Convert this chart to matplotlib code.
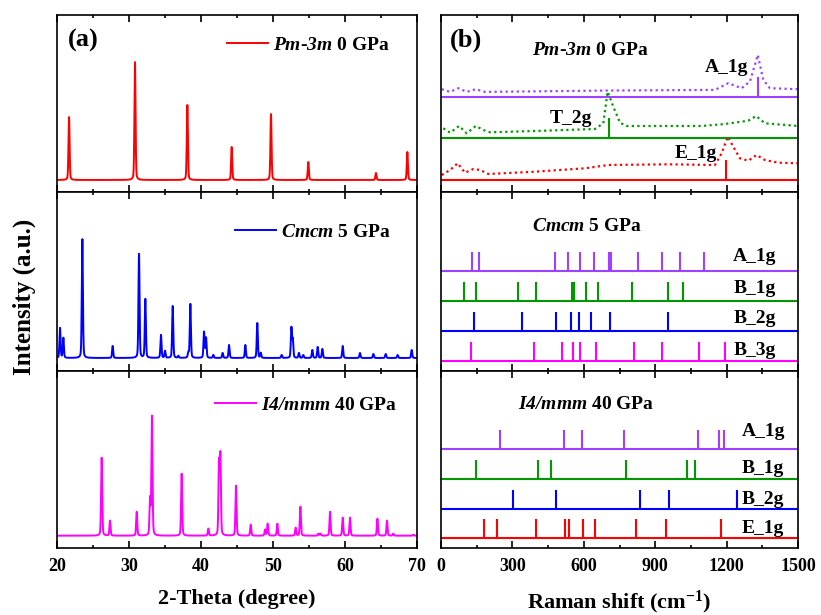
import numpy as np
import matplotlib.pyplot as plt

plt.rcParams['font.family'] = ['Liberation Serif', 'DejaVu Serif']
plt.rcParams['font.weight'] = 'bold'
plt.rcParams['mathtext.fontset'] = 'custom'
plt.rcParams['mathtext.rm'] = 'Liberation Serif:italic:bold'
plt.rcParams['mathtext.it'] = 'Liberation Serif:italic:bold'
plt.rcParams['mathtext.bf'] = 'Liberation Serif:bold'
plt.rcParams['axes.linewidth'] = 1.2

# ---- XRD peaks (2-theta, intensity a.u.) ----
pm3m_2theta = [21.67, 30.83, 38.10, 44.26, 49.72, 54.90, 64.30, 68.66]
pm3m_int = [63, 118, 75, 33, 66, 18, 7, 28]

cmcm_2theta = [20.42, 20.88, 23.52, 27.73, 31.39, 32.27, 34.44, 35.00, 36.07, 36.85,
               38.24, 38.52, 40.42, 40.70, 41.71, 43.00, 43.89, 46.16, 47.82, 48.30,
               51.20, 52.55, 52.75, 53.60, 54.20, 55.46, 56.20, 56.85, 59.68, 62.08,
               63.94, 65.65, 67.30, 69.26]
cmcm_int = [30, 20, 119, 12, 104, 59, 23, 7, 52, 2,
            5, 54, 26, 20, 3, 5, 13, 13, 35, 5,
            3, 30, 18, 5, 3, 8, 11, 9, 12, 5,
            4, 4, 3, 8]

i4mmm_2theta = [26.20, 27.36, 31.07, 32.92, 33.19, 37.31, 41.02, 42.50, 42.69, 44.86,
                46.90, 48.90, 49.26, 50.60, 53.15, 53.80, 56.30, 56.60, 57.92, 59.68,
                60.69, 64.50, 65.83, 66.70, 69.50]
i4mmm_int = [78, 15, 24, 36, 119, 62, 7, 71, 78, 50,
             11, 6, 12, 12, 8, 29, 2, 2, 24, 18,
             18, 17, 15, 2, 1]

# ---- Raman, Pm-3m 0 GPa: computed spectra (dotted) and mode positions ----
e1g_spec_x = [3, 38, 70, 101, 136, 164, 199, 395, 605, 703, 955, 1151, 1179, 1205,
              1228, 1256, 1291, 1326, 1361, 1417, 1500]
e1g_spec_y = [5, 10, 16.7, 7.3, 11, 10, 6, 8.3, 11.7, 15, 15.7, 15, 26.7, 43.3,
              33.3, 21.7, 19.3, 25, 20, 17.3, 16.7]
t2g_spec_x = [10, 38, 76, 108, 146, 178, 206, 395, 647, 682, 700, 724, 752, 780,
              1095, 1193, 1291, 1324, 1361, 1500]
t2g_spec_y = [10, 5.6, 12.3, 5, 12.3, 8.3, 6, 7.3, 9.3, 15, 46.6, 31.6, 15.6, 12.3,
              12.3, 14.3, 17.6, 22.3, 15, 12.3]
a1g_spec_x = [3, 38, 73, 108, 146, 185, 675, 1151, 1207, 1263, 1298, 1331, 1354,
              1382, 1500]
a1g_spec_y = [7.4, 4.7, 8.4, 4.7, 7.4, 4.7, 6, 6.7, 13.4, 8.4, 15, 41.7, 16.7,
              8.4, 7.4]
pm3m_modes = ['E_1g', 'T_2g', 'A_1g']
pm3m_freq = [1196, 707, 1333]

# ---- Raman, Cmcm 5 GPa ----
cmcm_modes = ['B_3g', 'B_2g', 'B_1g', 'A_1g']
cmcm_freq = [
    [127, 391, 510, 553, 585, 650, 810, 927, 1084, 1193],
    [137, 342, 483, 546, 580, 630, 709, 955],
    [98, 147, 322, 398, 549, 559, 608, 660, 801, 954, 1015],
    [129, 161, 479, 532, 584, 644, 706, 713, 826, 930, 1006, 1104],
]

# ---- Raman, I4/mmm 40 GPa ----
i4_modes = ['E_1g', 'B_2g', 'B_1g', 'A_1g']
i4_freq = [
    [182, 235, 399, 520, 539, 598, 646, 819, 945, 1176],
    [301, 482, 838, 958, 1242],
    [147, 409, 461, 777, 1035, 1067],
    [249, 518, 591, 769, 1078, 1168, 1190],
]

purple = '#A040FF'
green = '#009A00'
mode_colors = {'A_1g': purple, 'B_1g': green, 'B_2g': '#0000FF',
               'B_3g': '#FF00FF', 'E_1g': '#FF0000', 'T_2g': green}


def profile(x, centers, heights, fwhm=0.18, eta=0.3):
    y = np.zeros_like(x)
    for c, h in zip(centers, heights):
        g = np.exp(-4 * np.log(2) * ((x - c) / fwhm) ** 2)
        l = 1 / (1 + 4 * ((x - c) / fwhm) ** 2)
        y += h * ((1 - eta) * g + eta * l)
    return y


fig = plt.figure(figsize=(8.21, 6.15), dpi=100)
W, H = 821, 615
rows = [(15, 192), (192, 371), (371, 548)]


def make_ax(x0, x1, r):
    y0, y1 = r
    return fig.add_axes([x0 / W, 1 - y1 / H, (x1 - x0) / W, (y1 - y0) / H])


left_axes = [make_ax(57, 417, r) for r in rows]
right_axes = [make_ax(441, 798, r) for r in rows]

for ax in left_axes + right_axes:
    ax.set_yticks([])
    ax.tick_params(axis='x', which='both', direction='in', top=True, bottom=True,
                   labelsize=13, pad=7, width=1.2)
    ax.tick_params(axis='x', which='major', length=5)
    ax.tick_params(axis='x', which='minor', length=2.5)

# ---- left: XRD ----
tt = np.linspace(20, 70, 6001)
xrd = [(pm3m_2theta, pm3m_int, 'red', r'$\mathrm{Pm}$-$\mathrm{3m}$ 0 GPa', (-12, 165), (0.472, 0.83)),
       (cmcm_2theta, cmcm_int, 'blue', r'$\mathrm{Cmcm}$ 5 GPa', (-13, 166), (0.494, 0.778)),
       (i4mmm_2theta, i4mmm_int, '#FF00FF', r'$\mathrm{I4/mmm}$ 40 GPa', (-12.3, 164.7), (0.439, 0.808))]
for ax, (pos, inten, col, lab, yl, anchor) in zip(left_axes, xrd):
    line, = ax.plot(tt, profile(tt, pos, inten), color=col, lw=1.4, label=lab)
    ax.set_xlim(20, 70)
    ax.set_ylim(*yl)
    ax.set_xticks(np.arange(20, 71, 10))
    ax.set_xticks(np.arange(25, 70, 10), minor=True)
    ax.legend(handles=[line], loc='center left', bbox_to_anchor=anchor, frameon=False,
              handlelength=2.1, handletextpad=0.25, borderpad=0, borderaxespad=0,
              prop={'size': 14, 'weight': 'bold'})
for ax in left_axes[:2]:
    ax.tick_params(labelbottom=False)
left_axes[2].set_xlabel('2-Theta (degree)', fontsize=16, fontweight='bold', labelpad=10)
left_axes[0].text(0.031, 0.859, '(a)', transform=left_axes[0].transAxes,
                  fontsize=19, fontweight='bold', va='center', ha='left')
fig.text(24 / W, 1 - 297 / H, 'Intensity (a.u.)', rotation=90, va='center', ha='center',
         fontsize=18, fontweight='bold')

# ---- right top: Pm-3m ----
ax = right_axes[0]
spacing = 41.7
specs = [(e1g_spec_x, e1g_spec_y), (t2g_spec_x, t2g_spec_y), (a1g_spec_x, a1g_spec_y)]
lab_pos = [(1160, 27), (634, 20), (1290, 28.7)]
for k, (mode, f, (sx, sy), (lx, ly)) in enumerate(zip(pm3m_modes, pm3m_freq, specs, lab_pos)):
    off = k * spacing
    col = mode_colors[mode]
    ax.axhline(off, color=col, lw=1.5)
    ax.vlines(f, off, off + 20, color=col, lw=1.5)
    ax.plot(sx, np.array(sy) + off, color=col, lw=1.6, linestyle=(0, (1, 1.5)))
    ax.text(lx, off + ly, mode, color='black', fontsize=14, fontweight='bold',
            ha='right', va='center')
ax.set_ylim(-12, 165)
ax.text(0.255, 0.802, r'$\mathrm{Pm}$-$\mathrm{3m}$ 0 GPa', transform=ax.transAxes,
        fontsize=14, fontweight='bold', va='center', ha='left')
ax.text(0.025, 0.859, '(b)', transform=ax.transAxes, fontsize=19, fontweight='bold',
        va='center', ha='left')

# ---- right middle / bottom: stick spectra ----
stick_sets = [
    (right_axes[1], cmcm_modes, cmcm_freq, 29.9, (-10.3, 168.7), 1228, [10.3, 12.4, 12.3, 14.3],
     r'$\mathrm{Cmcm}$ 5 GPa', (0.254, 0.806)),
    (right_axes[2], i4_modes, i4_freq, 29.8, (-9.7, 167.3), 1263, [10, 9, 10, 17.3],
     r'$\mathrm{I4/mmm}$ 40 GPa', (0.216, 0.808)),
]
for ax, modes, freqs, sp, yl, lx, ldy, title, tpos in stick_sets:
    for k, (mode, f) in enumerate(zip(modes, freqs)):
        off = k * sp
        col = mode_colors[mode]
        ax.axhline(off, color=col, lw=1.5)
        ax.vlines(f, off, off + 19, color=col, lw=1.5)
        ax.text(lx, off + ldy[k], mode, fontsize=14, fontweight='bold', ha='left', va='center')
    ax.set_ylim(*yl)
    ax.text(tpos[0], tpos[1], title, transform=ax.transAxes, fontsize=14,
            fontweight='bold', va='center', ha='left')

for ax in right_axes:
    ax.set_xlim(0, 1500)
    ax.set_xticks(np.arange(0, 1501, 300))
    ax.set_xticks(np.arange(150, 1500, 300), minor=True)
for ax in right_axes[:2]:
    ax.tick_params(labelbottom=False)
right_axes[2].set_xlabel(r'Raman shift (cm$^{\mathbf{-1}}$)', fontsize=16,
                         fontweight='bold', labelpad=10)

fig.savefig('out.png', dpi=100)
